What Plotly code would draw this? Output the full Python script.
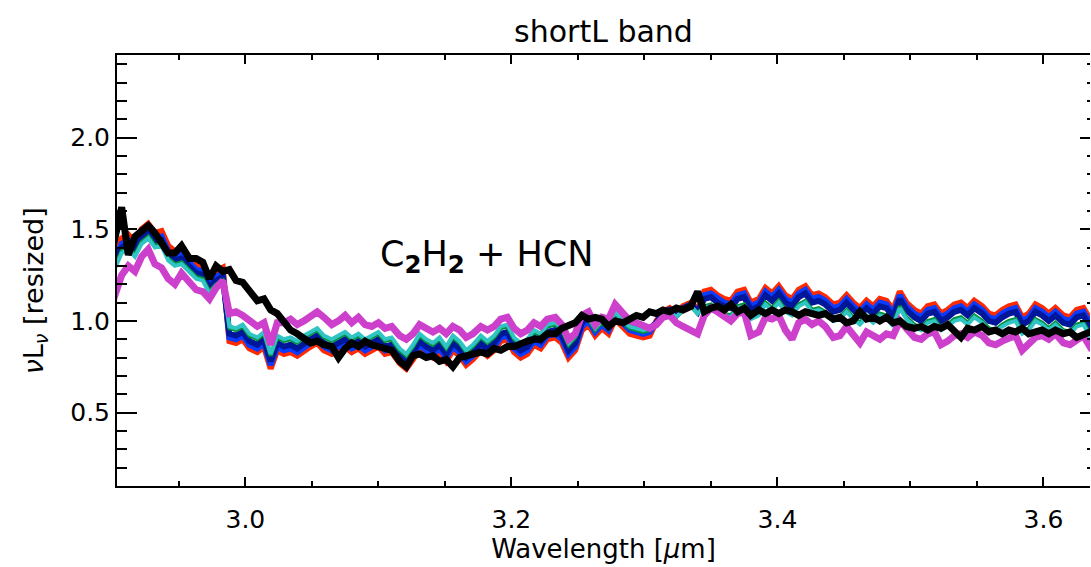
import plotly.graph_objects as go

# Wavelength sampling grid (micron)
wavelength = [
    2.901, 2.907, 2.912, 2.917, 2.922, 2.927, 2.932, 2.937, 2.942, 2.947,
    2.952, 2.958, 2.963, 2.968, 2.973, 2.978, 2.983, 2.988, 2.993, 2.998,
    3.003, 3.009, 3.014, 3.019, 3.024, 3.029, 3.034, 3.039, 3.044, 3.049,
    3.054, 3.059, 3.065, 3.070, 3.075, 3.080, 3.085, 3.090, 3.095, 3.100,
    3.105, 3.110, 3.116, 3.121, 3.126, 3.131, 3.136, 3.141, 3.146, 3.151,
    3.156, 3.161, 3.166, 3.171, 3.177, 3.182, 3.187, 3.192, 3.197, 3.202,
    3.207, 3.212, 3.217, 3.222, 3.227, 3.233, 3.238, 3.243, 3.248, 3.253,
    3.258, 3.263, 3.268, 3.273, 3.278, 3.284, 3.289, 3.294, 3.299, 3.304,
    3.309, 3.314, 3.319, 3.324, 3.329, 3.335, 3.340, 3.345, 3.350, 3.355,
    3.360, 3.365, 3.370, 3.375, 3.380, 3.386, 3.391, 3.396, 3.401, 3.406,
    3.411, 3.416, 3.421, 3.426, 3.431, 3.436, 3.442, 3.447, 3.452, 3.457,
    3.462, 3.467, 3.472, 3.477, 3.482, 3.487, 3.492, 3.497, 3.503, 3.508,
    3.513, 3.518, 3.523, 3.528, 3.533, 3.538, 3.543, 3.548, 3.554, 3.559,
    3.564, 3.569, 3.574, 3.579, 3.584, 3.589, 3.594, 3.599, 3.604, 3.609,
    3.615, 3.620, 3.625, 3.630, 3.635, 3.640,
]

spec_red = [
    1.35, 1.45, 1.47, 1.43, 1.50, 1.53, 1.48, 1.49, 1.41, 1.38,
    1.39, 1.35, 1.31, 1.30, 1.23, 1.27, 1.29, 0.89, 0.88, 0.90,
    0.85, 0.83, 0.86, 0.74, 0.84, 0.82, 0.83, 0.81, 0.84, 0.86,
    0.88, 0.84, 0.82, 0.84, 0.86, 0.83, 0.85, 0.82, 0.84, 0.86,
    0.82, 0.83, 0.77, 0.74, 0.79, 0.85, 0.82, 0.80, 0.83, 0.78,
    0.84, 0.81, 0.76, 0.79, 0.84, 0.81, 0.84, 0.89, 0.90, 0.83,
    0.80, 0.82, 0.87, 0.85, 0.90, 0.91, 0.88, 0.80, 0.84, 0.95,
    0.98, 0.92, 0.96, 0.93, 1.01, 0.96, 0.93, 0.92, 0.91, 0.92,
    1.00, 1.05, 1.07, 1.04, 1.08, 1.10, 1.06, 1.16, 1.17, 1.14,
    1.12, 1.11, 1.16, 1.17, 1.10, 1.12, 1.18, 1.15, 1.19, 1.14,
    1.12, 1.17, 1.19, 1.14, 1.15, 1.13, 1.09, 1.10, 1.14, 1.10,
    1.07, 1.11, 1.08, 1.12, 1.11, 1.06, 1.16, 1.10, 1.06, 1.04,
    1.08, 1.09, 1.04, 1.06, 1.09, 1.10, 1.07, 1.11, 1.08, 1.04,
    1.03, 1.06, 1.08, 1.09, 1.02, 1.04, 1.09, 1.07, 1.04, 1.07,
    1.03, 1.02, 1.06, 1.07, 1.01, 1.04,
]

spec_blue = [
    1.32, 1.42, 1.44, 1.40, 1.47, 1.50, 1.45, 1.46, 1.38, 1.35,
    1.36, 1.32, 1.28, 1.27, 1.20, 1.24, 1.26, 0.91, 0.90, 0.92,
    0.87, 0.85, 0.88, 0.76, 0.86, 0.84, 0.85, 0.83, 0.86, 0.88,
    0.90, 0.86, 0.84, 0.86, 0.88, 0.85, 0.87, 0.84, 0.86, 0.88,
    0.84, 0.85, 0.79, 0.76, 0.81, 0.87, 0.84, 0.82, 0.85, 0.80,
    0.86, 0.83, 0.78, 0.81, 0.86, 0.83, 0.86, 0.91, 0.92, 0.85,
    0.82, 0.84, 0.89, 0.87, 0.92, 0.93, 0.90, 0.82, 0.86, 0.97,
    1.00, 0.94, 0.98, 0.95, 1.03, 0.98, 0.95, 0.94, 0.93, 0.94,
    0.99, 1.04, 1.06, 1.03, 1.07, 1.09, 1.05, 1.14, 1.15, 1.12,
    1.10, 1.09, 1.14, 1.15, 1.08, 1.10, 1.16, 1.13, 1.17, 1.12,
    1.10, 1.15, 1.17, 1.12, 1.13, 1.11, 1.07, 1.08, 1.12, 1.08,
    1.05, 1.09, 1.06, 1.10, 1.09, 1.04, 1.14, 1.08, 1.04, 1.02,
    1.06, 1.07, 1.02, 1.04, 1.07, 1.08, 1.05, 1.09, 1.06, 1.02,
    1.01, 1.04, 1.06, 1.07, 1.00, 1.02, 1.07, 1.05, 1.02, 1.05,
    1.01, 1.00, 1.04, 1.05, 0.99, 1.02,
]

spec_navy = [
    1.30, 1.40, 1.42, 1.38, 1.45, 1.48, 1.43, 1.44, 1.36, 1.33,
    1.34, 1.30, 1.26, 1.25, 1.18, 1.22, 1.24, 0.93, 0.92, 0.94,
    0.89, 0.87, 0.90, 0.78, 0.88, 0.86, 0.87, 0.85, 0.88, 0.90,
    0.92, 0.88, 0.86, 0.88, 0.90, 0.87, 0.89, 0.86, 0.88, 0.90,
    0.86, 0.87, 0.81, 0.78, 0.83, 0.89, 0.86, 0.84, 0.87, 0.82,
    0.88, 0.85, 0.80, 0.83, 0.88, 0.85, 0.88, 0.93, 0.94, 0.87,
    0.84, 0.86, 0.91, 0.89, 0.94, 0.95, 0.92, 0.84, 0.88, 0.99,
    1.02, 0.96, 1.00, 0.97, 1.05, 1.00, 0.97, 0.96, 0.95, 0.96,
    0.99, 1.04, 1.06, 1.03, 1.07, 1.09, 1.05, 1.12, 1.13, 1.10,
    1.08, 1.07, 1.12, 1.13, 1.06, 1.08, 1.14, 1.11, 1.15, 1.10,
    1.08, 1.13, 1.15, 1.10, 1.11, 1.09, 1.05, 1.06, 1.10, 1.06,
    1.03, 1.07, 1.04, 1.08, 1.07, 1.02, 1.12, 1.06, 1.02, 1.00,
    1.04, 1.05, 1.00, 1.02, 1.05, 1.06, 1.03, 1.07, 1.04, 1.00,
    0.99, 1.02, 1.04, 1.05, 0.98, 1.00, 1.05, 1.03, 1.00, 1.03,
    0.99, 0.98, 1.02, 1.03, 0.97, 1.00,
]

spec_green = [
    1.28, 1.38, 1.40, 1.36, 1.43, 1.46, 1.41, 1.42, 1.34, 1.31,
    1.32, 1.28, 1.24, 1.23, 1.16, 1.20, 1.22, 0.96, 0.95, 0.97,
    0.92, 0.90, 0.93, 0.81, 0.91, 0.89, 0.90, 0.88, 0.91, 0.93,
    0.95, 0.91, 0.89, 0.91, 0.93, 0.90, 0.92, 0.89, 0.91, 0.93,
    0.89, 0.90, 0.84, 0.81, 0.86, 0.92, 0.89, 0.87, 0.90, 0.85,
    0.91, 0.88, 0.83, 0.86, 0.91, 0.88, 0.91, 0.96, 0.97, 0.90,
    0.87, 0.89, 0.94, 0.92, 0.97, 0.98, 0.95, 0.87, 0.91, 1.02,
    1.01, 0.95, 0.99, 0.96, 1.04, 0.99, 0.96, 0.95, 0.94, 0.95,
    0.98, 1.03, 1.05, 1.02, 1.06, 1.08, 1.04, 1.08, 1.09, 1.06,
    1.04, 1.03, 1.08, 1.09, 1.02, 1.04, 1.10, 1.07, 1.11, 1.06,
    1.04, 1.09, 1.11, 1.06, 1.07, 1.05, 1.01, 1.02, 1.06, 1.02,
    0.99, 1.03, 1.00, 1.04, 1.03, 0.98, 1.08, 1.02, 0.98, 0.96,
    1.00, 1.01, 0.96, 0.98, 1.01, 1.02, 0.99, 1.03, 1.00, 0.96,
    0.95, 0.98, 1.00, 1.01, 0.94, 0.96, 1.01, 0.99, 0.96, 0.99,
    0.95, 0.94, 0.98, 0.99, 0.93, 0.96,
]

spec_cyan = [
    1.27, 1.37, 1.39, 1.35, 1.42, 1.45, 1.40, 1.41, 1.33, 1.30,
    1.31, 1.27, 1.23, 1.22, 1.15, 1.19, 1.21, 0.97, 0.96, 0.98,
    0.93, 0.91, 0.94, 0.82, 0.92, 0.90, 0.91, 0.89, 0.92, 0.94,
    0.96, 0.92, 0.90, 0.92, 0.94, 0.91, 0.93, 0.90, 0.92, 0.94,
    0.90, 0.91, 0.85, 0.82, 0.87, 0.93, 0.90, 0.88, 0.91, 0.86,
    0.92, 0.89, 0.84, 0.87, 0.92, 0.89, 0.92, 0.97, 0.98, 0.91,
    0.88, 0.90, 0.95, 0.93, 0.98, 0.99, 0.96, 0.88, 0.92, 1.03,
    1.02, 0.96, 1.00, 0.97, 1.05, 1.00, 0.97, 0.96, 0.95, 0.96,
    0.98, 1.03, 1.05, 1.02, 1.06, 1.08, 1.04, 1.07, 1.08, 1.05,
    1.03, 1.02, 1.07, 1.08, 1.01, 1.03, 1.09, 1.06, 1.10, 1.05,
    1.03, 1.08, 1.10, 1.05, 1.06, 1.04, 1.00, 1.01, 1.05, 1.01,
    0.98, 1.02, 0.99, 1.03, 1.02, 0.97, 1.07, 1.01, 0.97, 0.95,
    0.99, 1.00, 0.95, 0.97, 1.00, 1.01, 0.98, 1.02, 0.99, 0.95,
    0.94, 0.97, 0.99, 1.00, 0.93, 0.95, 1.00, 0.98, 0.95, 0.98,
    0.94, 0.93, 0.97, 0.98, 0.92, 0.95,
]

spec_magenta = [
    1.12, 1.25, 1.30, 1.27, 1.35, 1.39, 1.31, 1.29, 1.23, 1.20,
    1.26, 1.21, 1.17, 1.16, 1.12, 1.18, 1.22, 1.04, 1.05, 1.03,
    1.00, 0.97, 0.99, 0.87, 0.99, 0.99, 1.01, 0.98, 1.00, 1.03,
    1.05, 1.02, 0.98, 1.00, 1.03, 0.99, 1.02, 0.98, 0.97, 0.99,
    0.96, 0.97, 0.92, 0.90, 0.93, 0.98, 0.96, 0.94, 0.96, 0.93,
    0.97, 0.95, 0.91, 0.93, 0.97, 0.95, 0.97, 1.01, 1.02, 0.96,
    0.93, 0.95, 0.99, 0.97, 1.01, 1.02, 0.98, 0.90, 0.93, 1.03,
    1.05, 0.98, 1.02, 1.01, 1.09, 1.04, 1.00, 0.99, 0.97, 0.96,
    0.98, 1.02, 1.03, 0.99, 0.97, 0.95, 0.93, 1.03, 1.07, 1.05,
    1.02, 1.00, 1.04, 1.05, 0.92, 0.94, 1.02, 1.01, 1.03, 0.95,
    0.90, 0.99, 1.01, 0.98, 1.00, 0.97, 0.91, 0.92, 0.97, 0.93,
    0.88, 0.94, 0.92, 0.90, 0.93, 0.92, 1.00, 0.96, 0.91, 0.90,
    0.93, 0.94, 0.87, 0.89, 0.92, 0.93, 0.91, 0.94, 0.92, 0.88,
    0.87, 0.89, 0.91, 0.92, 0.84, 0.87, 0.91, 0.92, 0.90, 0.93,
    0.88, 0.87, 0.90, 0.92, 0.86, 0.89,
]

spec_black = [
    1.42, 1.62, 1.36, 1.46, 1.49, 1.52, 1.48, 1.43, 1.37, 1.37,
    1.41, 1.34, 1.34, 1.32, 1.23, 1.30, 1.27, 1.28, 1.22, 1.21,
    1.16, 1.11, 1.12, 1.06, 1.04, 1.00, 0.95, 0.93, 0.90, 0.88,
    0.89, 0.87, 0.86, 0.80, 0.85, 0.88, 0.86, 0.89, 0.87, 0.86,
    0.85, 0.84, 0.78, 0.75, 0.81, 0.82, 0.80, 0.81, 0.78, 0.79,
    0.75, 0.80, 0.81, 0.82, 0.83, 0.82, 0.85, 0.84, 0.86, 0.86,
    0.88, 0.89, 0.90, 0.90, 0.93, 0.93, 0.96, 0.98, 0.99, 1.03,
    1.01, 1.02, 1.01, 0.97, 1.00, 0.99, 1.01, 1.03, 1.02, 1.05,
    1.04, 1.06, 1.05, 1.07, 1.06, 1.08, 1.16, 1.05, 1.07, 1.08,
    1.06, 1.09, 1.05, 1.07, 1.03, 1.06, 1.04, 1.06, 1.04, 1.06,
    1.05, 1.03, 1.05, 1.04, 1.03, 1.04, 1.01, 1.02, 0.99, 1.00,
    1.05, 1.01, 1.02, 1.00, 1.02, 0.99, 1.00, 0.97, 0.96, 0.97,
    0.95, 0.97, 0.96, 0.98, 0.95, 0.91, 0.96, 0.95, 0.97, 0.94,
    0.95, 0.93, 0.95, 0.94, 0.96, 0.93, 0.94, 0.95, 0.93, 0.95,
    0.93, 0.94, 0.91, 0.93, 0.94, 0.93,
]

series = [
    (spec_red, "#ff2a00", 6),
    (spec_blue, "#0a3cff", 6),
    (spec_navy, "#00179a", 6),
    (spec_green, "#00913a", 4),
    (spec_cyan, "#30c4c4", 4),
    (spec_magenta, "#cc40cc", 7),
    (spec_black, "#000000", 7),
]

FONT = "DejaVu Sans"
NB = "\u00a0"

fig = go.Figure()
for ys, col, w in series:
    fig.add_trace(go.Scatter(
        x=wavelength, y=ys, mode="lines",
        line=dict(color=col, width=w),
        showlegend=False, hoverinfo="skip",
    ))
# helper trace so the right-hand tick axis is drawn
fig.add_trace(go.Scatter(x=[], y=[], yaxis="y2", showlegend=False, hoverinfo="skip"))

fig.add_annotation(
    x=3.1, y=1.35, xref="x", yref="y",
    text="C<sub><b>2</b></sub>H<sub><b>2</b></sub>" + NB + "+" + NB + "HCN",
    showarrow=False, xanchor="left", yanchor="middle",
    font=dict(family=FONT, size=35, color="black"),
)
# y-axis title (placed as rotated text to match the reference position)
fig.add_annotation(
    x=-0.0843, y=0.454, xref="paper", yref="paper",
    text="<i>ν</i>L<sub><i>ν</i></sub>" + NB + "[resized]",
    textangle=-90, showarrow=False, xanchor="center", yanchor="middle",
    font=dict(family=FONT, size=27, color="black"),
)

fig.update_layout(
    width=1091, height=567,
    margin=dict(l=117, r=1, t=55, b=81),
    paper_bgcolor="white", plot_bgcolor="white",
    font=dict(family=FONT, size=25, color="black"),
    title=dict(text="shortL" + NB + "band", x=0.5, xref="paper", xanchor="center",
               y=0.945, yref="container", yanchor="middle",
               font=dict(family=FONT, size=30, color="black")),
    xaxis=dict(
        range=[2.9035, 3.635], dtick=0.2, tick0=3.0, tickformat=".1f",
        ticks="inside", ticklen=9, tickwidth=2, tickcolor="black",
        minor=dict(dtick=0.05, ticks="inside", ticklen=5, tickwidth=1.5, tickcolor="black"),
        showline=True, linecolor="black", linewidth=2, mirror="ticks",
        showgrid=False, zeroline=False,
        tickfont=dict(family=FONT, size=25),
        ticklabelstandoff=10,
        title=dict(text="Wavelength" + NB + "[<i>μ</i>m]", standoff=4,
                   font=dict(family=FONT, size=26)),
    ),
    yaxis=dict(
        range=[0.1, 2.45], dtick=0.5, tick0=0.5, tickformat=".1f",
        ticks="inside", ticklen=20, tickwidth=2, tickcolor="black",
        minor=dict(dtick=0.1, ticks="inside", ticklen=10, tickwidth=1.5, tickcolor="black"),
        showline=True, linecolor="black", linewidth=2, mirror=False,
        showgrid=False, zeroline=False,
        tickfont=dict(family=FONT, size=25),
    ),
    yaxis2=dict(
        overlaying="y", side="right", anchor="x",
        range=[0.1, 2.45], dtick=0.5, tick0=0.5,
        ticks="inside", ticklen=10, tickwidth=2, tickcolor="black",
        minor=dict(dtick=0.1, ticks="inside", ticklen=3, tickwidth=1.5, tickcolor="black"),
        showline=False, showgrid=False, zeroline=False, showticklabels=False,
    ),
)

fig.write_html("out.html")
